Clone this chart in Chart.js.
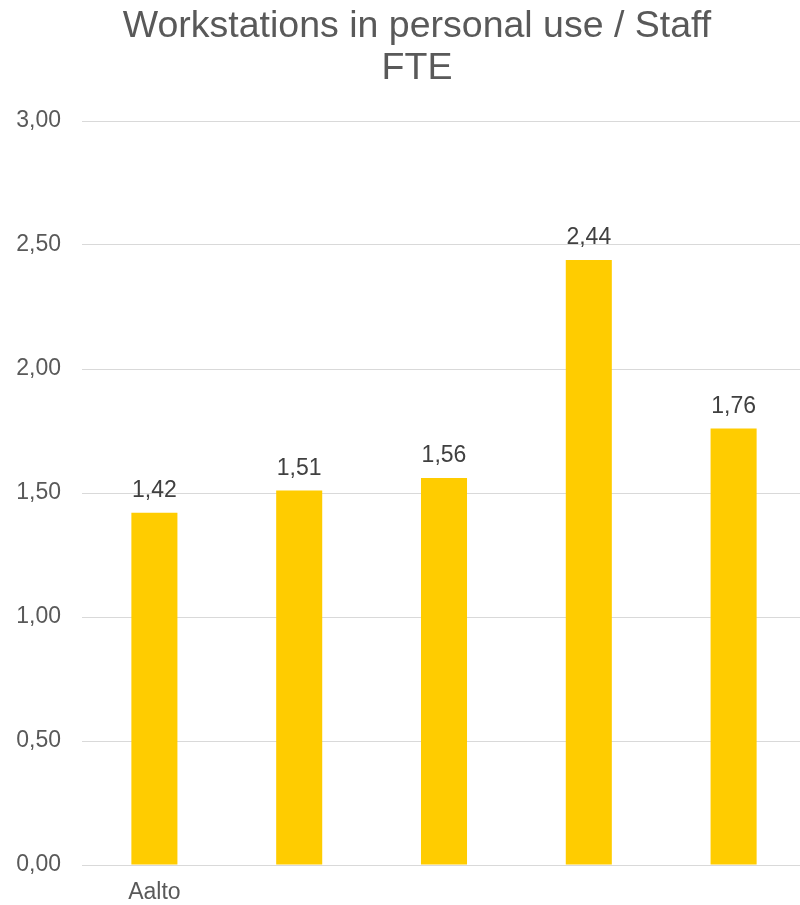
<!DOCTYPE html>
<html>
<head>
<meta charset="utf-8">
<script src="https://cdn.jsdelivr.net/npm/chart.js@4/dist/chart.umd.min.js"></script>
<style>
html,body{margin:0;padding:0;background:#fff;overflow:hidden;width:800px;height:905px;}
#wrap{width:806px;height:905px;}
</style>
</head>
<body>
<div id="wrap"><canvas id="c" width="806" height="905"></canvas></div>
<script>
const categories = ["Aalto", "", "", "", ""];
const values = [1.42, 1.51, 1.56, 2.44, 1.76];
const titleLines = ["Workstations in personal use / Staff", "FTE"];
const yMin = 0, yMax = 3, yStep = 0.5;

const fmt = v => v.toFixed(2).replace('.', ',');
const FONT = "'Liberation Sans', Arial, sans-serif";

const labelPlugin = {
  id: 'barLabels',
  afterDatasetsDraw(chart) {
    const ctx = chart.ctx;
    const meta = chart.getDatasetMeta(0);
    ctx.save();
    ctx.font = "23px " + FONT;
    ctx.fillStyle = '#404040';
    ctx.textAlign = 'center';
    ctx.textBaseline = 'alphabetic';
    meta.data.forEach((bar, i) => {
      ctx.fillText(fmt(values[i]), bar.x, bar.y - 16);
    });
    ctx.restore();
  }
};

const titlePlugin = {
  id: 'shiftedTitle',
  afterDraw(chart) {
    const ctx = chart.ctx;
    ctx.save();
    ctx.font = "37.5px " + FONT;
    ctx.fillStyle = '#595959';
    ctx.textAlign = 'center';
    ctx.textBaseline = 'alphabetic';
    titleLines.forEach((line, i) => {
      ctx.fillText(line, 417, 36.7 + i * 42.6);
    });
    ctx.restore();
  }
};

new Chart(document.getElementById('c'), {
  type: 'bar',
  data: {
    labels: categories,
    datasets: [{
      data: values,
      backgroundColor: '#FFCC00',
      borderWidth: 0,
      barPercentage: 0.318,
      categoryPercentage: 1
    }]
  },
  options: {
    responsive: false,
    animation: false,
    layout: { padding: { left: 0, right: 0, top: 121, bottom: 0 } },
    plugins: {
      legend: { display: false },
      tooltip: { enabled: false },
      title: { display: false }
    },
    scales: {
      x: {
        grid: { display: false, drawTicks: false },
        border: { display: false },
        ticks: { color: '#595959', font: { family: FONT, size: 23 }, padding: 14, maxRotation: 0 },
        afterFit(s) { s.height = 40; }
      },
      y: {
        min: yMin, max: yMax,
        grid: { color: '#d9d9d9', lineWidth: 1, drawTicks: false },
        border: { display: false },
        ticks: { stepSize: yStep, color: '#595959', font: { family: FONT, size: 23 }, padding: 21,
          callback: v => fmt(v) },
        afterFit(s) { s.width = 82; }
      }
    }
  },
  plugins: [labelPlugin, titlePlugin]
});
</script>
</body>
</html>
